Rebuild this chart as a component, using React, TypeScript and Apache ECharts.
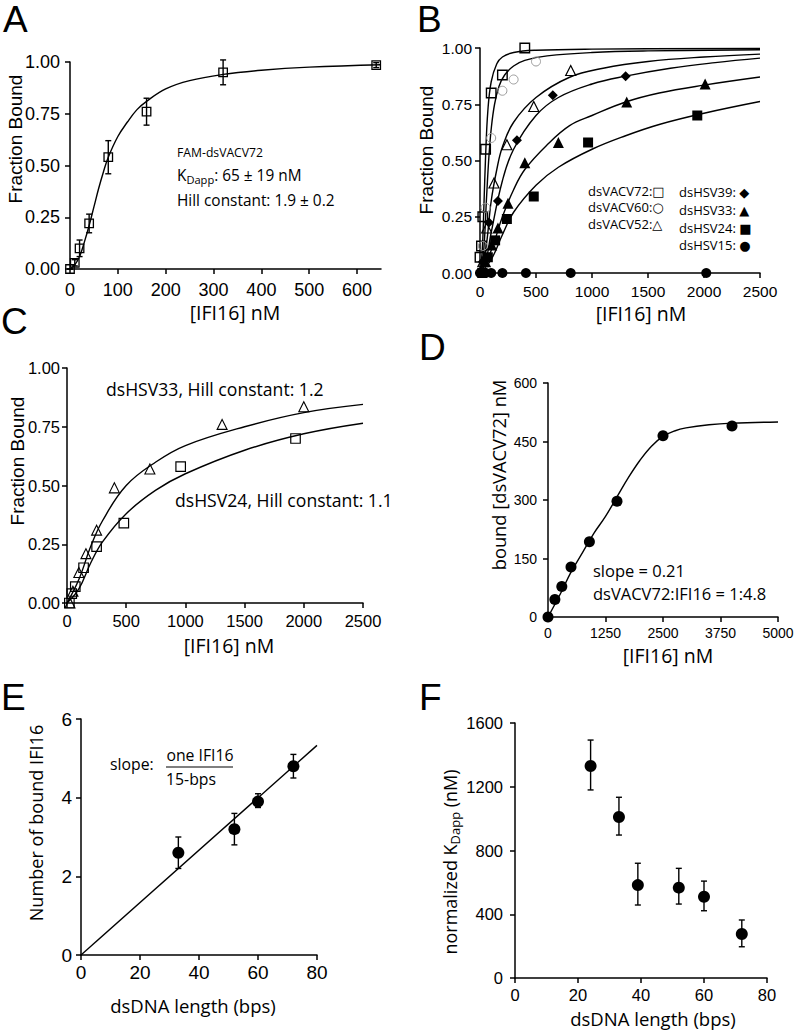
import React, { useEffect, useRef } from "react";
import * as echarts from "echarts";

// ---------- Panel A ----------
const aConc = [0, 10, 20, 40, 80, 160, 320, 640];
const aFrac = [0, 0.03, 0.1, 0.22, 0.54, 0.76, 0.95, 0.985];
const aErr = [0, 0.015, 0.04, 0.045, 0.08, 0.065, 0.06, 0.012];
const aFitX = [0, 10, 20, 30, 40, 50, 60, 70, 80, 100, 120, 140, 160, 200, 250, 320, 400, 500, 650];
const aFitY = [0, 0.02, 0.06, 0.13, 0.21, 0.3, 0.39, 0.47, 0.54, 0.64, 0.71, 0.77, 0.81, 0.87, 0.91, 0.94, 0.96, 0.975, 0.987];

// ---------- Panel B ----------
const bV72X = [0, 13, 25, 50, 100, 200, 400];
const bV72Y = [0.07, 0.12, 0.25, 0.55, 0.8, 0.88, 1.0];
const bV60X = [25, 50, 100, 200, 300, 500];
const bV60Y = [0.12, 0.29, 0.6, 0.81, 0.86, 0.94];
const bV52X = [25, 60, 125, 240, 480, 810];
const bV52Y = [0.05, 0.2, 0.4, 0.57, 0.74, 0.9];
const bH39X = [25, 80, 160, 330, 650, 1300];
const bH39Y = [0.05, 0.225, 0.32, 0.59, 0.79, 0.875];
const bH33X = [50, 105, 160, 250, 400, 700, 1310, 2010];
const bH33Y = [0.05, 0.125, 0.2, 0.31, 0.49, 0.58, 0.76, 0.84];
const bH24X = [20, 70, 135, 240, 480, 965, 1940];
const bH24Y = [0.0, 0.07, 0.145, 0.24, 0.34, 0.58, 0.7];
const bH15X = [0, 50, 100, 200, 410, 810, 2020];
const bH15Y = [0, 0, 0, 0, 0, 0, 0];

const bFitV72X = [0, 20, 35, 50, 70, 100, 150, 200, 300, 500, 1000, 2500];
const bFitV72Y = [0, 0.1, 0.3, 0.52, 0.72, 0.85, 0.93, 0.96, 0.98, 0.99, 0.995, 0.998];
const bFitV60X = [0, 30, 60, 80, 100, 130, 170, 220, 300, 400, 600, 1000, 1500, 2500];
const bFitV60Y = [0, 0.08, 0.35, 0.52, 0.64, 0.75, 0.83, 0.88, 0.92, 0.945, 0.965, 0.98, 0.987, 0.992];
const bFitV52X = [0, 50, 100, 150, 200, 300, 500, 800, 1100, 1500, 2000, 2500];
const bFitV52Y = [0, 0.1, 0.32, 0.46, 0.56, 0.67, 0.78, 0.87, 0.91, 0.94, 0.96, 0.973];
const bFitH39X = [0, 50, 100, 200, 300, 500, 700, 1000, 1300, 1700, 2100, 2500];
const bFitH39Y = [0, 0.05, 0.18, 0.41, 0.55, 0.7, 0.78, 0.84, 0.875, 0.91, 0.935, 0.955];
const bFitH33X = [0, 100, 200, 300, 400, 600, 800, 1000, 1300, 1600, 2000, 2500];
const bFitH33Y = [0, 0.1, 0.25, 0.37, 0.46, 0.57, 0.655, 0.7, 0.76, 0.8, 0.835, 0.871];
const bFitH24X = [0, 100, 200, 300, 500, 700, 1000, 1300, 1600, 2000, 2500];
const bFitH24Y = [0, 0.06, 0.17, 0.27, 0.39, 0.47, 0.55, 0.61, 0.66, 0.71, 0.762];

// ---------- Panel C ----------
const cH33X = [25, 50, 100, 160, 250, 400, 700, 1310, 2000];
const cH33Y = [0.0, 0.05, 0.13, 0.21, 0.31, 0.49, 0.57, 0.76, 0.835];
const cH24X = [20, 40, 70, 140, 250, 480, 960, 1930];
const cH24Y = [0.0, 0.04, 0.07, 0.15, 0.24, 0.34, 0.58, 0.7];
const cFitH33X = [0, 100, 200, 300, 500, 750, 1000, 1500, 2000, 2500];
const cFitH33Y = [0, 0.1, 0.24, 0.35, 0.5, 0.6, 0.67, 0.75, 0.81, 0.845];
const cFitH24X = [0, 100, 200, 300, 500, 750, 1000, 1500, 2000, 2500];
const cFitH24Y = [0, 0.06, 0.17, 0.26, 0.38, 0.48, 0.55, 0.65, 0.72, 0.765];

// ---------- Panel D ----------
const dConc = [0, 150, 300, 500, 900, 1500, 2500, 4000];
const dBound = [0, 45, 78, 128, 193, 297, 465, 490];
const dFitX = [0, 250, 500, 750, 1000, 1250, 1500, 1750, 2000, 2250, 2500, 2750, 3000, 3500, 4000, 5000];
const dFitY = [0, 55, 115, 165, 215, 258, 308, 358, 402, 438, 463, 477, 485, 493, 497, 500];

// ---------- Panel E ----------
const eLen = [33, 52, 60, 72];
const eNum = [2.6, 3.2, 3.9, 4.8];
const eLow = [2.2, 2.8, 3.75, 4.5];
const eHigh = [3.0, 3.6, 4.1, 5.1];
const eFitX = [0, 80];
const eFitY = [0, 5.33];

// ---------- Panel F ----------
const fLen = [24, 33, 39, 52, 60, 72];
const fKd = [1330, 1010, 583, 567, 510, 276];
const fLow = [1180, 897, 458, 464, 422, 196];
const fHigh = [1493, 1134, 720, 688, 608, 364];

const SANS = "Liberation Sans, Arial, sans-serif";
const MYR = "Open Sans, sans-serif";
const GLY = "DejaVu Sans, sans-serif";

const pairs = (xs: number[], ys: number[]) => xs.map((x, i) => [x, ys[i]]);
const plain = (v: number) => String(v);

function xAx(gi: number, min: number, max: number, interval: number, fs: number, margin: number, custom?: number[]) {
  const ax: any = {
    type: "value", gridIndex: gi, min, max, interval,
    axisLine: { show: true, onZero: false, lineStyle: { color: "#000", width: 1.5 } },
    axisTick: { show: true, length: 5, lineStyle: { color: "#000", width: 1.5 } },
    splitLine: { show: false },
    axisLabel: { color: "#000", fontFamily: SANS, fontSize: fs, margin, formatter: plain },
  };
  if (custom) {
    ax.axisTick.customValues = custom;
    ax.axisLabel.customValues = custom;
  }
  return ax;
}
function yAx(gi: number, min: number, max: number, interval: number, fs: number, margin: number, fmt: (v: number) => string = plain) {
  return {
    type: "value", gridIndex: gi, min, max, interval,
    axisLine: { show: true, onZero: false, lineStyle: { color: "#000", width: 1.5 } },
    axisTick: { show: true, length: 5, lineStyle: { color: "#000", width: 1.5 } },
    splitLine: { show: false },
    axisLabel: { color: "#000", fontFamily: SANS, fontSize: fs, margin, formatter: fmt },
  };
}
function scat(gi: number, xs: number[], ys: number[], symbol: string, size: number, fill: string, stroke: string, bw: number) {
  return {
    type: "scatter", xAxisIndex: gi, yAxisIndex: gi, data: pairs(xs, ys), symbol, symbolSize: size,
    itemStyle: { color: fill, borderColor: stroke, borderWidth: bw, opacity: 1 }, clip: false, z: 4,
    emphasis: { disabled: true },
  };
}
function fit(gi: number, xs: number[], ys: number[], smooth: any = 0.4) {
  return {
    type: "line", xAxisIndex: gi, yAxisIndex: gi, data: pairs(xs, ys), showSymbol: false, symbol: "none",
    smooth, lineStyle: { color: "#000", width: 1.4 }, clip: false, z: 3,
  };
}
function errBars(gi: number, xs: number[], lo: number[], hi: number[], cap: number) {
  return {
    type: "custom", xAxisIndex: gi, yAxisIndex: gi, clip: false, z: 2,
    data: xs.map((x, i) => [x, lo[i], hi[i]]),
    renderItem: (params: any, api: any) => {
      const a = api.coord([api.value(0), api.value(1)]);
      const b = api.coord([api.value(0), api.value(2)]);
      const st = { stroke: "#000", lineWidth: 1.4 };
      return {
        type: "group",
        children: [
          { type: "line", shape: { x1: a[0], y1: a[1], x2: b[0], y2: b[1] }, style: st },
          { type: "line", shape: { x1: a[0] - cap, y1: a[1], x2: a[0] + cap, y2: a[1] }, style: st },
          { type: "line", shape: { x1: b[0] - cap, y1: b[1], x2: b[0] + cap, y2: b[1] }, style: st },
        ],
      };
    },
  };
}
function txt(x: number, y: number, text: string, fs: number, family: string, align = "left", rot = 0, rich?: any, lh?: number) {
  return {
    type: "text", x, y, rotation: rot, z: 10,
    style: { text, fontSize: fs, fontFamily: family, fill: "#000", align, verticalAlign: "middle", rich, lineHeight: lh },
  };
}
const legRich = {
  t: { fontSize: 13, fontFamily: MYR, fill: "#000", lineHeight: 13 },
  g: { fontSize: 13, fontFamily: GLY, fill: "#000", lineHeight: 13 },
};
function leg(x: number, y: number, label: string, glyph: string) {
  return txt(x, y, `{t|${label}}{g|${glyph}}`, 13, MYR, "left", 0, legRich, 13);
}

export default function App() {
  const ref = useRef<HTMLDivElement>(null);
  useEffect(() => {
    if (!ref.current) return;
    const chart = echarts.init(ref.current, null, { renderer: "svg" });
    const f2 = (v: number) => v.toFixed(2);
    const aLo = aFrac.map((v, i) => v - aErr[i]);
    const aHi = aFrac.map((v, i) => v + aErr[i]);
    const subRich = (fs: number) => ({
      n: { fontSize: fs, fontFamily: MYR, fill: "#000" },
      s: { fontSize: fs * 0.72, fontFamily: MYR, fill: "#000", padding: [fs * 0.55, 0, 0, 0] },
    });
    const option: any = {
      animation: false,
      backgroundColor: "#fff",
      grid: [
        { left: 70, top: 62, width: 311, height: 207, containLabel: false, outerBoundsMode: "none" },
        { left: 480, top: 48, width: 280, height: 225, containLabel: false, outerBoundsMode: "none" },
        { left: 67, top: 368, width: 296, height: 235, containLabel: false, outerBoundsMode: "none" },
        { left: 548, top: 383, width: 230, height: 234, containLabel: false, outerBoundsMode: "none" },
        { left: 81, top: 719, width: 236, height: 236, containLabel: false, outerBoundsMode: "none" },
        { left: 515, top: 723, width: 252, height: 255, containLabel: false, outerBoundsMode: "none" },
      ],
      xAxis: [
        xAx(0, 0, 650, 100, 18, 12, [0, 100, 200, 300, 400, 500, 600]),
        xAx(1, 0, 2500, 500, 15.5, 10),
        xAx(2, 0, 2500, 500, 16.5, 9),
        xAx(3, 0, 5000, 1250, 14, 9),
        xAx(4, 0, 80, 20, 19, 8),
        xAx(5, 0, 80, 20, 16.5, 8),
      ],
      yAxis: [
        yAx(0, 0, 1, 0.25, 18, 10, f2),
        yAx(1, 0, 1, 0.25, 15.5, 8, f2),
        yAx(2, 0, 1, 0.25, 16.5, 7, f2),
        yAx(3, 0, 600, 150, 14, 11),
        yAx(4, 0, 6, 2, 19, 9),
        yAx(5, 0, 1600, 400, 16.5, 12),
      ],
      series: [
        // A
        fit(0, aFitX, aFitY),
        errBars(0, aConc, aLo, aHi, 3),
        scat(0, aConc, aFrac, "rect", 8.5, "transparent", "#000", 1.3),
        // B
        fit(1, bFitV72X, bFitV72Y),
        fit(1, bFitV60X, bFitV60Y),
        fit(1, bFitV52X, bFitV52Y),
        fit(1, bFitH39X, bFitH39Y),
        fit(1, bFitH33X, bFitH33Y),
        fit(1, bFitH24X, bFitH24Y),
        scat(1, bV72X, bV72Y, "rect", 9.5, "transparent", "#000", 1.4),
        scat(1, bV60X, bV60Y, "circle", 9, "transparent", "#999", 1),
        scat(1, bV52X, bV52Y, "triangle", 10, "transparent", "#000", 1.2),
        scat(1, bH39X, bH39Y, "diamond", 10, "#000", "#000", 0),
        scat(1, bH33X, bH33Y, "triangle", 11, "#000", "#000", 0),
        scat(1, bH24X, bH24Y, "rect", 10, "#000", "#000", 0),
        scat(1, bH15X, bH15Y, "circle", 10, "#000", "#000", 0),
        // C
        fit(2, cFitH33X, cFitH33Y),
        fit(2, cFitH24X, cFitH24Y),
        scat(2, cH33X, cH33Y, "triangle", 10, "transparent", "#000", 1.1),
        scat(2, cH24X, cH24Y, "rect", 9.5, "transparent", "#000", 1.2),
        // D
        fit(3, dFitX, dFitY),
        scat(3, dConc, dBound, "circle", 11, "#000", "#000", 0),
        // E
        fit(4, eFitX, eFitY, false),
        errBars(4, eLen, eLow, eHigh, 3),
        scat(4, eLen, eNum, "circle", 12, "#000", "#000", 0),
        // F
        errBars(5, fLen, fLow, fHigh, 3),
        scat(5, fLen, fKd, "circle", 12, "#000", "#000", 0),
      ],
      graphic: [
        // panel letters
        txt(3, 19, "A", 37, SANS),
        txt(417, 19, "B", 37, SANS),
        txt(1, 321, "C", 37, SANS),
        txt(419, 347, "D", 37, SANS),
        txt(1, 697, "E", 37, SANS),
        txt(419, 697, "F", 37, SANS),
        // y titles
        txt(15, 139, "Fraction Bound", 19, SANS, "center", Math.PI / 2),
        txt(426, 150, "Fraction Bound", 19, SANS, "center", Math.PI / 2),
        txt(17, 461, "Fraction Bound", 19, SANS, "center", Math.PI / 2),
        txt(498, 475, "bound [dsVACV72] nM", 18.3, MYR, "center", Math.PI / 2),
        txt(36, 823, "Number of bound IFI16", 18.1, MYR, "center", Math.PI / 2),
        txt(450, 862, "{n|normalized K}{s|Dapp}{n| (nM)}", 18, MYR, "center", Math.PI / 2, subRich(18)),
        // x titles
        txt(235, 312, "[IFI16] nM", 19.5, MYR, "center"),
        txt(641, 313, "[IFI16] nM", 19.5, MYR, "center"),
        txt(229, 645, "[IFI16] nM", 19.5, MYR, "center"),
        txt(668, 655, "[IFI16] nM", 19.5, MYR, "center"),
        txt(193, 1005, "dsDNA length (bps)", 18.5, MYR, "center"),
        txt(653, 1018, "dsDNA length (bps)", 18.5, MYR, "center"),
        // A annotations
        txt(177, 152, "FAM-dsVACV72", 12.2, MYR),
        txt(177, 175, "{n|K}{s|Dapp}{n|: 65 ± 19 nM}", 15.4, MYR, "left", 0, subRich(15.4)),
        txt(177, 200, "Hill constant: 1.9 ± 0.2", 15.4, MYR),
        // B legend
        leg(588, 191, "dsVACV72:", "□"),
        leg(588, 207, "dsVACV60:", "○"),
        leg(588, 224, "dsVACV52:", "△"),
        leg(679, 192, "dsHSV39: ", "◆"),
        leg(679, 210, "dsHSV33: ", "▲"),
        leg(679, 228, "dsHSV24: ", "■"),
        leg(679, 245, "dsHSV15: ", "●"),
        // C annotations
        txt(106, 389, "dsHSV33, Hill constant: 1.2", 17.6, MYR),
        txt(175, 500, "dsHSV24, Hill constant: 1.1", 17.6, MYR),
        // D annotations
        txt(593, 570, "slope = 0.21", 16.5, MYR),
        txt(593, 593, "dsVACV72:IFI16 = 1:4.8", 16.5, MYR),
        // E annotation
        txt(110, 764, "slope:", 15.8, MYR),
        txt(200, 755, "one IFI16", 15.8, MYR, "center"),
        txt(191, 779, "15-bps", 15.8, MYR, "center"),
        { type: "line", shape: { x1: 166, y1: 767, x2: 233, y2: 767 }, style: { stroke: "#000", lineWidth: 1.2 }, z: 10 },
      ],
    };
    chart.setOption(option);
    return () => chart.dispose();
  }, []);
  return (
    <div
      ref={ref}
      style={{ position: "fixed", left: 0, top: 0, width: 799, height: 1030, background: "#fff" }}
    />
  );
}
